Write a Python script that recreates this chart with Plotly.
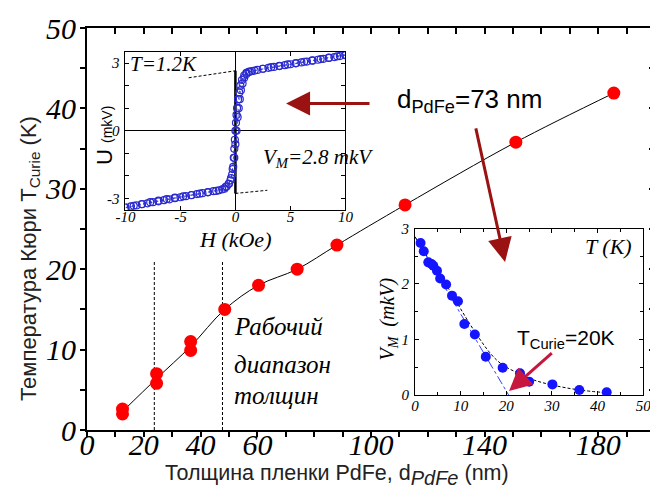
import plotly.graph_objects as go

SERIF = "Liberation Serif"
SANS = "Liberation Sans"

# ---- main data: Curie temperature vs PdFe thickness ----
thick_nm = [12.5, 12.5, 24.5, 24.5, 36.5, 36.5, 48.5, 60.4, 74, 88, 112, 151, 185.5]
tcurie_K = [2.0, 2.6, 7.0, 5.8, 11.0, 9.9, 15.0, 18.0, 20.0, 23.0, 28.0, 35.8, 41.9]
curve_x = [12.5, 24.5, 36.5, 48.5, 60.4, 74, 88, 112, 151, 185.5]
curve_y = [2.3, 6.4, 10.4, 15.0, 18.0, 20.0, 23.0, 28.0, 35.8, 41.9]
range_lines_x = [23.7, 47.7]
range_lines_top = [21.0, 20.9]

x_ticks = [0, 10, 20, 30, 40, 50, 60, 70, 80, 90, 100, 110, 120, 130, 140, 150, 160, 170, 180, 190, 200]
x_ticklabels = ["0", "", "20", "", "40", "", "60", "", "", "", "100", "", "", "", "140", "", "", "", "180", "", ""]
y_ticks = [0, 5, 10, 15, 20, 25, 30, 35, 40, 45, 50]
y_ticklabels = ["0", "", "10", "", "20", "", "30", "", "40", "", "50"]

# ---- inset 1: hysteresis U(H) at T=1.2K ----
H_down = [10, 9.5, 9, 8.5, 8, 7.5, 7, 6.5, 6, 5.5, 5, 4.5, 4, 3.5, 3, 2.5, 2, 1.5, 1.2, 1.0,
          0.8, 0.6, 0.45, 0.35, 0.25, 0.15, 0.1, 0.05, 0.0, -0.05, -0.1, -0.15, -0.2, -0.3, -0.45,
          -0.6, -0.8, -1.0, -1.5, -2, -2.5, -3, -3.5, -4, -4.5, -5, -5.5, -6, -6.5, -7, -7.5, -8,
          -8.5, -9, -9.5, -10]
U_down = [3.35, 3.31, 3.27, 3.23, 3.19, 3.15, 3.11, 3.07, 3.03, 2.99, 2.95, 2.91, 2.87, 2.83, 2.79,
          2.75, 2.70, 2.65, 2.61, 2.57, 2.45, 2.25, 2.0, 1.7, 1.4, 1.0, 0.7, 0.35, 0.0, -0.4, -0.8,
          -1.2, -1.6, -1.95, -2.2, -2.35, -2.47, -2.57, -2.64, -2.68, -2.72, -2.77, -2.81, -2.86,
          -2.90, -2.95, -2.99, -3.04, -3.08, -3.13, -3.17, -3.22, -3.26, -3.31, -3.35, -3.40]
H_up = [-10, -9.25, -8.5, -7.75, -7, -6.25, -5.5, -4.75, -4, -3.25, -2.5, -1.75, -1.2, -0.9, -0.6,
        -0.4, -0.25, -0.1, 0.0, 0.1, 0.2, 0.3, 0.4, 0.5, 0.65, 0.8, 1.0, 1.3, 1.75, 2.5, 3.25, 4,
        4.75, 5.5, 6.25, 7, 7.75, 8.5, 9.25, 10]
U_up = [-3.42, -3.33, -3.25, -3.17, -3.1, -3.03, -2.97, -2.91, -2.85, -2.79, -2.73, -2.67, -2.6,
        -2.5, -2.35, -2.1, -1.7, -1.2, -0.6, 0.0, 0.6, 1.0, 1.4, 1.8, 2.1, 2.35, 2.52, 2.62, 2.67,
        2.75, 2.82, 2.88, 2.94, 3.0, 3.06, 3.12, 3.18, 3.24, 3.3, 3.37]
extrap_up_H = [-4.25, 0.0]
extrap_up_U = [2.35, 2.66]
extrap_lo_H = [0.0, 2.9]
extrap_lo_U = [-2.78, -2.64]
jump_H = [0.0, 0.0]
jump_U = [-2.78, 2.66]

# ---- inset 2: V_M vs T ----
T_K = [1.2, 1.9, 2.9, 3.6, 4.0, 4.8, 5.5, 6.8, 8.1, 9.4, 10.8, 13.1, 15.5, 19.2, 23.0, 25.0, 30.1, 36.0, 42.0]
VM = [2.74, 2.59, 2.39, 2.36, 2.33, 2.24, 2.10, 1.99, 1.79, 1.69, 1.28, 1.09, 0.69, 0.49, 0.39, 0.24, 0.19, 0.09, 0.05]
fit_T = [0, 2, 4, 6, 8, 10, 12, 14, 16, 18, 20, 23, 26, 30, 36, 42]
fit_V = [2.85, 2.58, 2.33, 2.08, 1.83, 1.55, 1.28, 1.03, 0.80, 0.62, 0.50, 0.38, 0.27, 0.18, 0.09, 0.04]
tangent_T = [0, 20.5]
tangent_V = [2.85, 0.0]

fig = go.Figure()

# main
fig.add_trace(go.Scatter(x=curve_x, y=curve_y, mode="lines", line=dict(color="black", width=1, shape="spline"),
                         xaxis="x", yaxis="y", showlegend=False, hoverinfo="skip"))
for xv, top in zip(range_lines_x, range_lines_top):
    fig.add_trace(go.Scatter(x=[xv, xv], y=[0, top], mode="lines",
                             line=dict(color="black", width=1, dash="3px,2px"),
                             xaxis="x", yaxis="y", showlegend=False, hoverinfo="skip"))
fig.add_trace(go.Scatter(x=thick_nm, y=tcurie_K, mode="markers",
                         marker=dict(color="#ff0000", size=13), xaxis="x", yaxis="y", showlegend=False))
# dummy for overlay axes (top/right inward ticks)
fig.add_trace(go.Scatter(x=[None], y=[None], xaxis="x4", yaxis="y4", showlegend=False, hoverinfo="skip"))

# inset 1
fig.add_trace(go.Scatter(x=extrap_up_H, y=extrap_up_U, mode="lines", line=dict(color="black", width=1, dash="3px,2px"),
                         xaxis="x2", yaxis="y2", showlegend=False))
fig.add_trace(go.Scatter(x=extrap_lo_H, y=extrap_lo_U, mode="lines", line=dict(color="black", width=1, dash="3px,2px"),
                         xaxis="x2", yaxis="y2", showlegend=False))
fig.add_trace(go.Scatter(x=jump_H, y=jump_U, mode="lines", line=dict(color="black", width=2.5),
                         xaxis="x2", yaxis="y2", showlegend=False))
for hh, uu in ((H_down, U_down), (H_up, U_up)):
    fig.add_trace(go.Scatter(x=hh, y=uu, mode="lines+markers",
                             line=dict(color="#2a2ad0", width=0.8, dash="dot"),
                             marker=dict(symbol="circle-open", size=7, color="#2a2ad0", line=dict(width=1.2)),
                             xaxis="x2", yaxis="y2", showlegend=False))

# inset 2
fig.add_trace(go.Scatter(x=tangent_T, y=tangent_V, mode="lines", line=dict(color="#3040ff", width=1, dash="dashdot"),
                         xaxis="x3", yaxis="y3", showlegend=False))
fig.add_trace(go.Scatter(x=fit_T, y=fit_V, mode="lines", line=dict(color="black", width=1, dash="3px,2px", shape="spline"),
                         xaxis="x3", yaxis="y3", showlegend=False))
fig.add_trace(go.Scatter(x=T_K, y=VM, mode="markers", marker=dict(color="#1414ff", size=10),
                         xaxis="x3", yaxis="y3", showlegend=False))

main_tick_font = dict(family=SERIF, size=30, color="black", style="italic")
small_tick_font = dict(family=SERIF, size=15, color="black", style="italic")

fig.update_layout(
    width=658, height=487,
    margin=dict(l=79, r=3, t=17, b=65),
    paper_bgcolor="white", plot_bgcolor="white",
    xaxis=dict(domain=[0, 1], range=[0, 200], tickmode="array", tickvals=x_ticks, ticktext=x_ticklabels,
               ticks="outside", ticklen=5, tickwidth=1.5, tickcolor="black", showline=True, linewidth=2,
               linecolor="black", mirror=True, showgrid=False, zeroline=False, tickfont=main_tick_font,
               anchor="y", ticklabelstandoff=-18),
    yaxis=dict(domain=[0, 1], range=[0, 50], tickmode="array", tickvals=y_ticks, ticktext=y_ticklabels,
               ticks="outside", ticklen=5, tickwidth=1.5, tickcolor="black", showline=True, linewidth=2,
               linecolor="black", mirror=True, showgrid=False, zeroline=False, tickfont=main_tick_font,
               anchor="x", ticklabelstandoff=-2),
    xaxis4=dict(overlaying="x", side="top", anchor="y4", range=[0, 200], tickmode="array", tickvals=x_ticks,
                ticks="inside", ticklen=6, tickwidth=1.5, tickcolor="black", showticklabels=False,
                showline=False, showgrid=False, zeroline=False),
    yaxis4=dict(overlaying="y", side="right", anchor="x4", range=[0, 50], tickmode="array", tickvals=y_ticks,
                ticks="inside", ticklen=6, tickwidth=1.5, tickcolor="black", showticklabels=False,
                showline=False, showgrid=False, zeroline=False),
    xaxis2=dict(domain=[0.0677, 0.4549], anchor="y2", range=[-10, 10], tickvals=[-10, -5, 0, 5, 10],
                ticktext=["-10", "-5", "0", "5", "10"], ticks="inside", ticklen=4, tickcolor="black",
                showline=True, linewidth=1, linecolor="black", mirror="ticks", showgrid=False,
                zeroline=True, zerolinecolor="black", zerolinewidth=1, tickfont=small_tick_font,
                ticklabelstandoff=-7),
    yaxis2=dict(domain=[0.5481, 0.9407], anchor="x2", range=[-3.5, 3.5], tickvals=[-3, -2, -1, 0, 1, 2, 3],
                ticktext=["-3", "", "", "0", "", "", "3"], ticks="inside", ticklen=4, tickcolor="black",
                showline=True, linewidth=1, linecolor="black", mirror="ticks", showgrid=False,
                zeroline=True, zerolinecolor="black", zerolinewidth=1, tickfont=small_tick_font,
                ticklabelstandoff=2),
    xaxis3=dict(domain=[0.5776, 0.9792], anchor="y3", range=[0, 50], dtick=10, ticks="inside", ticklen=4,
                tickcolor="black", minor=dict(dtick=5, ticks="inside", ticklen=3, tickcolor="black"),
                showline=True, linewidth=1, linecolor="black", mirror="ticks", showgrid=False,
                zeroline=False, tickfont=small_tick_font, ticklabelstandoff=-3),
    yaxis3=dict(domain=[0.0872, 0.5012], anchor="x3", range=[0, 3], dtick=1, ticks="inside", ticklen=4,
                tickcolor="black", minor=dict(dtick=0.5, ticks="inside", ticklen=3, tickcolor="black"),
                showline=True, linewidth=1, linecolor="black", mirror="ticks", showgrid=False,
                zeroline=False, tickfont=small_tick_font, ticklabelstandoff=2),
)


def px_x(px):
    return (px - 79) / 576


def px_y(py):
    return (422 - py) / 405


def label(text, cx, cy, font, angle=0, xanchor="center"):
    return dict(text=text, xref="paper", yref="paper", x=px_x(cx), y=px_y(cy), xanchor=xanchor,
                yanchor="middle", textangle=angle, showarrow=False, font=font)


ann = []
# axis titles
ann.append(label("Температура Кюри T<sub>Curie</sub> (K)", 21, 249, dict(family=SANS, size=22, color="#222"), -90))
ann.append(label("Толщина пленки PdFe, d<sub><span style='font-size:20px'><i>PdFe</i></span></sub> (nm)",
                 333, 467, dict(family=SANS, size=21.5, color="#222")))
# working range
for txt, cy in (("Рабочий", 318), ("диапазон", 356), ("толщин", 387)):
    ann.append(label("<i>" + txt + "</i>", 226, cy, dict(family=SERIF, size=25, color="black"), xanchor="left"))
# d_PdFe label
ann.append(label("d<sub>PdFe</sub>=73 nm", 467, 90, dict(family=SANS, size=26, color="black")))
# inset 1 texts
ann.append(label("<i>T=1.2K</i>", 121, 53, dict(family=SERIF, size=21, color="black"), xanchor="left"))
ann.append(label("<i>V<sub>M</sub>=2.8 mkV</i>", 255, 148, dict(family=SERIF, size=21, color="black"),
                 xanchor="left"))
ann.append(label("U <span style='font-size:14px'>(mkV)</span>", 96, 125,
                 dict(family=SANS, size=22, color="black"), -90))
ann.append(label("<i>H (kOe)</i>", 229, 230, dict(family=SERIF, size=22, color="black")))
# inset 2 texts
ann.append(label("<i>T (K)</i>", 608, 237, dict(family=SERIF, size=22, color="black")))
ann.append(label("<i>V<sub>M</sub>  (mkV)</i>", 385, 310, dict(family=SERIF, size=20, color="black"), -90))
ann.append(label("T<sub>Curie</sub>=20K", 565, 330, dict(family=SANS, size=21, color="black")))
# arrows
ann.append(dict(text="", xref="x", yref="y", x=70.1, y=40.6, axref="x", ayref="y", ax=100.0, ay=40.6,
                showarrow=True, arrowhead=2, arrowsize=1.6, arrowwidth=3, arrowcolor="#9b1212"))
ann.append(dict(text="", xref="x", yref="y", x=147.2, y=20.9, axref="x", ayref="y", ax=136.8, ay=37.7,
                showarrow=True, arrowhead=2, arrowsize=1.6, arrowwidth=3, arrowcolor="#9b1212"))
ann.append(dict(text="", xref="x3", yref="y3", x=20.6, y=0.07, axref="x3", ayref="y3", ax=30.3, ay=0.78,
                showarrow=True, arrowhead=2, arrowsize=1.5, arrowwidth=3, arrowcolor="#c8173e"))
fig.update_layout(annotations=ann)

fig.write_html("out.html")
